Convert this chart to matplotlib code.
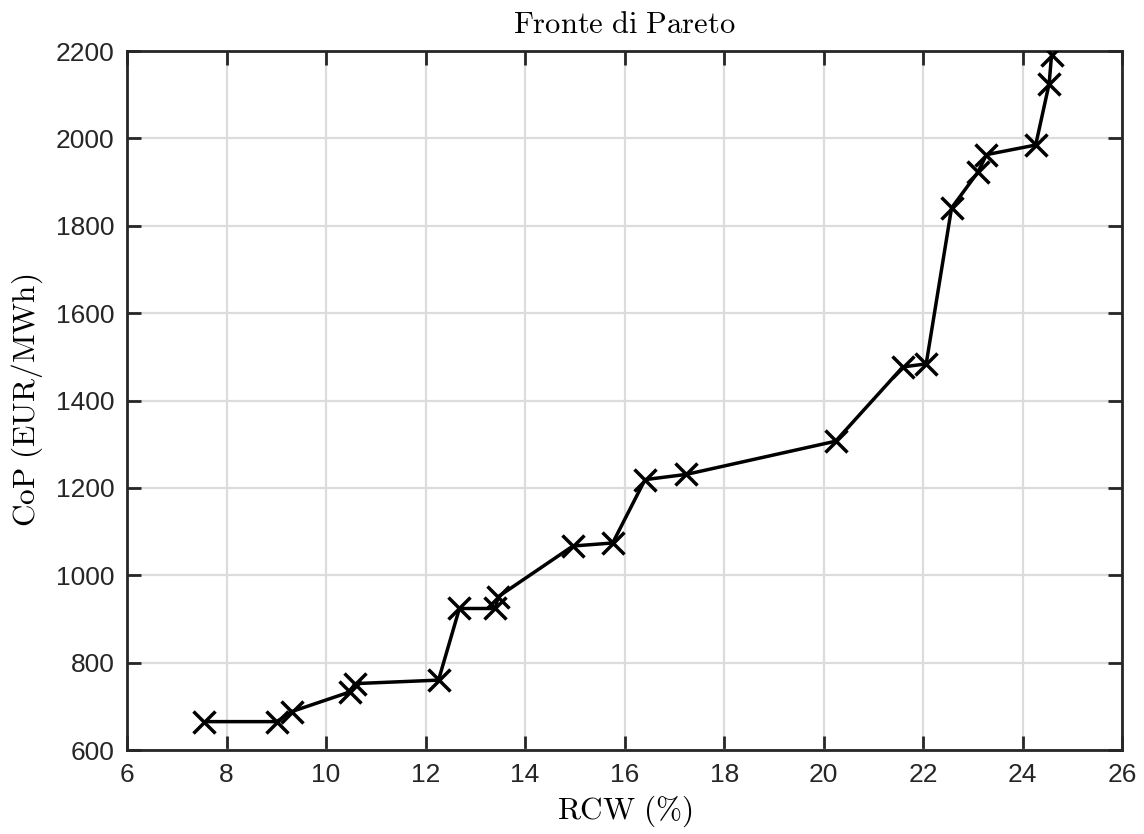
import matplotlib
matplotlib.use("Agg")
import matplotlib.pyplot as plt

# Pareto front: RCW (%) vs cost of production (EUR/MWh)
rcw = [7.55, 9.01, 9.31, 10.48, 10.58, 12.26, 12.68, 13.40, 13.46, 14.96, 15.76,
       16.41, 17.24, 20.24, 21.59, 22.06, 22.57, 23.10, 23.27, 24.26, 24.53, 24.58]
cop = [665, 665, 688, 733, 752, 760, 924, 924, 951, 1067, 1074,
       1219, 1231, 1307, 1477, 1484, 1841, 1923, 1963, 1985, 2125, 2192]

x_ticks = list(range(6, 27, 2))
y_ticks = list(range(600, 2201, 200))

plt.rcParams['mathtext.fontset'] = 'cm'
plt.rcParams['font.family'] = ['Liberation Sans', 'DejaVu Sans']

fig = plt.figure(figsize=(11.44, 8.34), dpi=100)
ax = fig.add_axes([0.111, 0.1007, 0.870, 0.838])

ax.plot(rcw, cop, color='black', linewidth=2.5, marker='x',
        markersize=16, markeredgewidth=2.5, zorder=3)

ax.set_xlim(6, 26)
ax.set_ylim(600, 2200)
ax.set_xticks(x_ticks)
ax.set_yticks(y_ticks)
ax.grid(True, color='#dcdcdc', linewidth=1.6)
ax.set_axisbelow(True)

for s in ax.spines.values():
    s.set_linewidth(2)
    s.set_color('#262626')
ax.tick_params(direction='in', length=10, width=2, colors='#262626',
               labelsize=19, top=True, right=True, labelcolor='#262626', pad=9)

ax.set_title(r'$\mathrm{Fronte\ di\ Pareto}$', fontsize=22, pad=13)
ax.set_xlabel(r'$\mathrm{RCW\ (\%)}$', fontsize=22.5, labelpad=5)
ax.set_ylabel(r'$\mathrm{CoP\ (EUR/MWh)}$', fontsize=22.5, labelpad=8)

fig.savefig('out.png', dpi=100)
